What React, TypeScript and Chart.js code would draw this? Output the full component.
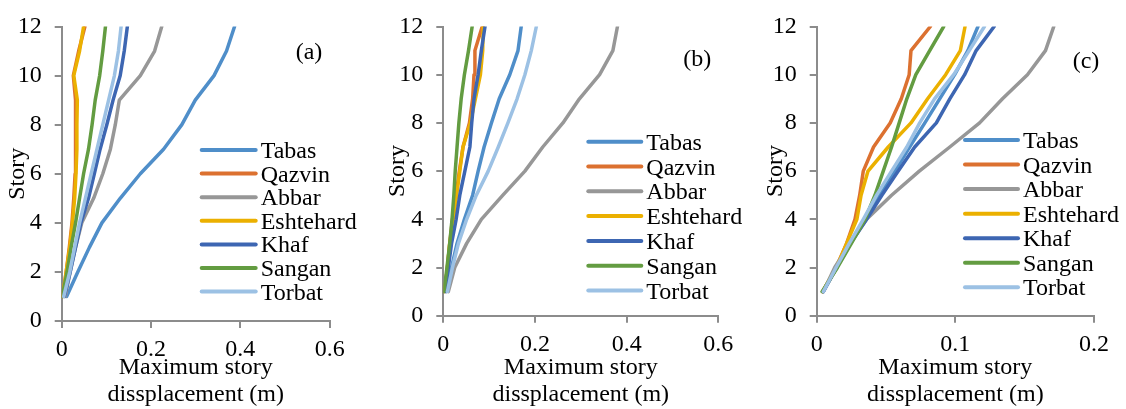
import React, { useEffect, useRef } from "react";
import { Chart, registerables } from "chart.js";

Chart.register(...registerables);

// ---------- data ----------
const storyLevels = [1, 2, 3, 4, 5, 6, 7, 8, 9, 10, 11, 12];
const seriesNames = ["Tabas", "Qazvin", "Abbar", "Eshtehard", "Khaf", "Sangan", "Torbat"];
const seriesColors = ["#4f8ec9", "#dc7130", "#979797", "#ebb000", "#3d66b2", "#639c41", "#9cc1e4"];

const yTicks = [0, 2, 4, 6, 8, 10, 12];
const xTicksAB = [0, 0.2, 0.4, 0.6];
const xTicksC = [0, 0.1, 0.2];
const xTitle = ["Maximum story", "dissplacement (m)"];
const yTitle = "Story";
const panelTags = ["(a)", "(b)", "(c)"];

// panel (a)
const tabasA = [0.011, 0.036, 0.062, 0.09, 0.131, 0.176, 0.228, 0.269, 0.299, 0.341, 0.369, 0.387];
const qazvinA = [0.002, 0.01, 0.017, 0.023, 0.027, 0.03, 0.031, 0.031, 0.031, 0.026, 0.038, 0.052];
const abbarA = [0.008, 0.019, 0.031, 0.045, 0.0715, 0.092, 0.109, 0.12, 0.129, 0.176, 0.208, 0.224];
const eshtehardA = [0.002, 0.01, 0.018, 0.024, 0.029, 0.032, 0.034, 0.034, 0.035, 0.027, 0.04, 0.049];
const khafA = [0.006, 0.019, 0.031, 0.043, 0.06, 0.073, 0.086, 0.101, 0.115, 0.131, 0.14, 0.147];
const sanganA = [0.0015, 0.012, 0.021, 0.031, 0.04, 0.049, 0.06, 0.068, 0.075, 0.085, 0.092, 0.098];
const torbatA = [0.0045, 0.018, 0.029, 0.04, 0.053, 0.066, 0.079, 0.092, 0.105, 0.118, 0.127, 0.133];

// panel (b)
const tabasB = [0.006, 0.018, 0.03, 0.046, 0.064, 0.076, 0.089, 0.105, 0.122, 0.145, 0.163, 0.17];
const qazvinB = [0.003, 0.009, 0.014, 0.02, 0.028, 0.035, 0.043, 0.057, 0.064, 0.067, 0.069, 0.085];
const abbarB = [0.011, 0.025, 0.051, 0.083, 0.13, 0.178, 0.217, 0.261, 0.297, 0.341, 0.37, 0.38];
const eshtehardB = [0.003, 0.009, 0.014, 0.022, 0.029, 0.036, 0.043, 0.059, 0.07, 0.081, 0.086, 0.087];
const khafB = [0.004, 0.011, 0.018, 0.028, 0.036, 0.047, 0.058, 0.062, 0.067, 0.076, 0.083, 0.091];
const sanganB = [0.0015, 0.008, 0.014, 0.019, 0.023, 0.026, 0.03, 0.034, 0.039, 0.046, 0.055, 0.063];
const torbatB = [0.009, 0.02, 0.033, 0.051, 0.072, 0.098, 0.12, 0.141, 0.161, 0.178, 0.192, 0.203];

// panel (c)
const tabasC = [0.0045, 0.0144, 0.024, 0.035, 0.0456, 0.0564, 0.067, 0.078, 0.0887, 0.0995, 0.109, 0.1163];
const qazvinC = [0.0043, 0.014, 0.0216, 0.0276, 0.031, 0.0336, 0.041, 0.053, 0.061, 0.0667, 0.068, 0.082];
const abbarC = [0.0048, 0.013, 0.024, 0.036, 0.054, 0.074, 0.096, 0.1175, 0.134, 0.152, 0.165, 0.171];
const eshtehardC = [0.0043, 0.0144, 0.0216, 0.029, 0.032, 0.037, 0.0516, 0.068, 0.08, 0.093, 0.1036, 0.107];
const khafC = [0.0048, 0.0144, 0.0245, 0.036, 0.047, 0.0588, 0.0707, 0.0863, 0.096, 0.1067, 0.115, 0.128];
const sanganC = [0.0039, 0.015, 0.025, 0.0348, 0.042, 0.048, 0.054, 0.0595, 0.065, 0.0715, 0.0815, 0.0916];
const torbatC = [0.0048, 0.014, 0.0235, 0.0336, 0.0432, 0.054, 0.065, 0.0743, 0.085, 0.0988, 0.11, 0.121];

// ---------- styling ----------
const FONT_FAMILY = '"Liberation Serif", "Times New Roman", serif';
const AXIS_COLOR = "#8c8c8c";
const CANVAS_H = 409;

type PanelSpec = {
  left: number;
  width: number;
  plot: { left: number; right: number; top: number; bottom: number };
  xMax: number;
  xTicks: number[];
  values: number[][];
  tag: string;
  tagX: number;
  tagY: number;
  legendX: number;
  legendY: number;
  legendStep: number;
  legendLen: number;
  xTickPad: number;
  yTitlePad: number;
};

const panels: PanelSpec[] = [
  {
    left: 0, width: 375,
    plot: { left: 61.7, right: 329.7, top: 18, bottom: 321 },
    xMax: 0.6, xTicks: xTicksAB,
    values: [tabasA, qazvinA, abbarA, eshtehardA, khafA, sanganA, torbatA],
    tag: panelTags[0], tagX: 309, tagY: 58.5,
    legendX: 201.7, legendY: 150, legendStep: 23.6, legendLen: 54,
    xTickPad: 8.5, yTitlePad: 4.5,
  },
  {
    left: 375, width: 375,
    plot: { left: 68.3, right: 343.3, top: 17.7, bottom: 315.7 },
    xMax: 0.6, xTicks: xTicksAB,
    values: [tabasB, qazvinB, abbarB, eshtehardB, khafB, sanganB, torbatB],
    tag: panelTags[1], tagX: 322.3, tagY: 65.5,
    legendX: 213.3, legendY: 141.7, legendStep: 24.8, legendLen: 53,
    xTickPad: 9, yTitlePad: 9.5,
  },
  {
    left: 750, width: 376,
    plot: { left: 66.7, right: 344, top: 18.3, bottom: 315.7 },
    xMax: 0.2, xTicks: xTicksC,
    values: [tabasC, qazvinC, abbarC, eshtehardC, khafC, sanganC, torbatC],
    tag: panelTags[2], tagX: 336, tagY: 67.5,
    legendX: 215, legendY: 140, legendStep: 24.55, legendLen: 53,
    xTickPad: 9, yTitlePad: 12.5,
  },
];

function Panel({ spec }: { spec: PanelSpec }) {
  const ref = useRef<HTMLCanvasElement | null>(null);

  useEffect(() => {
    const canvas = ref.current;
    if (!canvas) return;
    const font = { family: FONT_FAMILY, size: 24, lineHeight: 1.125 };

    const overlay = {
      id: "panelOverlay",
      afterDraw(chart: any) {
        const ctx = chart.ctx as CanvasRenderingContext2D;
        ctx.save();
        ctx.font = `24px ${FONT_FAMILY}`;
        ctx.textBaseline = "alphabetic";
        chart.data.datasets.forEach((ds: any, i: number) => {
          const y = spec.legendY + i * spec.legendStep;
          ctx.strokeStyle = ds.borderColor;
          ctx.lineWidth = 4;
          ctx.lineCap = "round";
          ctx.beginPath();
          ctx.moveTo(spec.legendX, y);
          ctx.lineTo(spec.legendX + spec.legendLen, y);
          ctx.stroke();
          ctx.fillStyle = "#000";
          ctx.textAlign = "left";
          ctx.fillText(ds.label, spec.legendX + spec.legendLen + 5, y + 8);
        });
        ctx.fillStyle = "#000";
        ctx.textAlign = "center";
        ctx.fillText(spec.tag, spec.tagX, spec.tagY);
        ctx.restore();
      },
    };

    const chart = new Chart(canvas, {
      type: "line",
      data: {
        datasets: spec.values.map((vals, i) => ({
          label: seriesNames[i],
          data: vals.map((v, j) => ({ x: v, y: storyLevels[j] })),
          borderColor: seriesColors[i],
          backgroundColor: seriesColors[i],
          borderWidth: 3.5,
          borderJoinStyle: "round",
          borderCapStyle: "round",
          pointRadius: 0,
          pointHoverRadius: 0,
          tension: 0,
          fill: false,
          order: seriesNames.length - i,
        })),
      },
      options: {
        responsive: false,
        maintainAspectRatio: false,
        animation: false,
        events: [],
        layout: {
          padding: { left: 0, top: spec.plot.top, right: spec.width - spec.plot.right, bottom: 0 },
        },
        plugins: { legend: { display: false }, tooltip: { enabled: false } },
        scales: {
          x: {
            type: "linear",
            min: 0,
            max: spec.xMax,
            afterBuildTicks: (s: any) => {
              s.ticks = spec.xTicks.map((v) => ({ value: v }));
            },
            afterFit: (s: any) => {
              s.height = CANVAS_H - spec.plot.bottom;
            },
            ticks: {
              font,
              color: "#000",
              padding: spec.xTickPad,
              maxRotation: 0,
              autoSkip: false,
              callback: (v: any) => String(v),
            },
            grid: { drawOnChartArea: false, drawTicks: true, tickLength: 7, color: AXIS_COLOR, lineWidth: 2 },
            border: { display: true, color: AXIS_COLOR, width: 2 },
            title: { display: true, text: xTitle, font, color: "#000", padding: { top: 0, bottom: 0.5 } },
          },
          y: {
            type: "linear",
            min: 0,
            max: 12,
            afterBuildTicks: (s: any) => {
              s.ticks = yTicks.map((v) => ({ value: v }));
            },
            afterFit: (s: any) => {
              s.width = spec.plot.left;
            },
            ticks: {
              font,
              color: "#000",
              padding: 13,
              autoSkip: false,
              callback: (v: any) => String(v),
            },
            grid: { drawOnChartArea: false, drawTicks: true, tickLength: 7, color: AXIS_COLOR, lineWidth: 2 },
            border: { display: true, color: AXIS_COLOR, width: 2 },
            title: { display: true, text: yTitle, font, color: "#000", padding: { top: spec.yTitlePad, bottom: 0 } },
          },
        },
      } as any,
      plugins: [overlay],
    });

    return () => chart.destroy();
  }, [spec]);

  return (
    <canvas
      ref={ref}
      width={spec.width}
      height={CANVAS_H}
      style={{ position: "absolute", left: spec.left, top: 0, width: spec.width, height: CANVAS_H }}
    />
  );
}

export default function App() {
  return (
    <div style={{ position: "absolute", left: 0, top: 0, width: 1126, height: CANVAS_H, background: "#fff" }}>
      {panels.map((p, i) => (
        <Panel key={i} spec={p} />
      ))}
    </div>
  );
}
